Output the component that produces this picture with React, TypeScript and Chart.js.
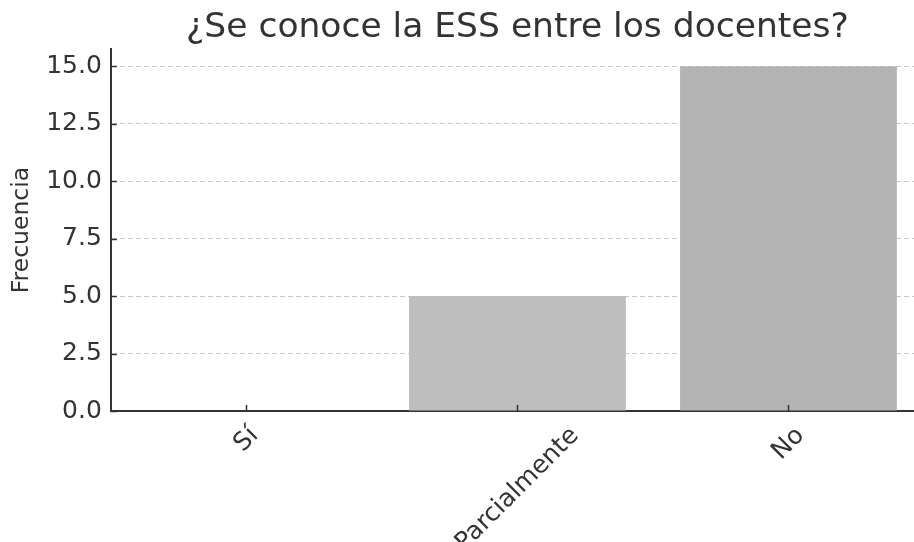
import { useEffect, useRef } from "react";
import { Chart, registerables } from "chart.js";

Chart.register(...registerables);

const categories = ["Sí", "Parcialmente", "No"];
const frequencies = [0, 5, 15];
const yTickValues = [0, 2.5, 5, 7.5, 10, 12.5, 15];
const barColors = ["#bebebe", "#bebebe", "#b4b4b4"];
const chartTitle = "¿Se conoce la ESS entre los docentes?";
const yAxisTitle = "Frecuencia";

const FONT = "'DejaVu Sans', sans-serif";
const INK = "#333333";

export default function App() {
  const ref = useRef<HTMLCanvasElement | null>(null);

  useEffect(() => {
    if (!ref.current) return;

    const mplPlugin = {
      id: "mplExtras",
      afterDatasetsDraw(chart: any) {
        const { ctx, chartArea, scales } = chart;
        const x = scales.x;
        const y = scales.y;
        ctx.save();
        ctx.strokeStyle = INK;
        ctx.lineWidth = 1.5;
        ctx.beginPath();
        y.ticks.forEach((t: any) => {
          const py = Math.round(y.getPixelForValue(t.value)) + 0.5;
          ctx.moveTo(chartArea.left, py);
          ctx.lineTo(chartArea.left + 6, py);
        });
        categories.forEach((_, i) => {
          const px = Math.round(x.getPixelForValue(i)) + 0.5;
          ctx.moveTo(px, chartArea.bottom);
          ctx.lineTo(px, chartArea.bottom - 6);
        });
        ctx.stroke();
        ctx.restore();
      },
      afterDraw(chart: any) {
        const { ctx, chartArea, scales } = chart;
        ctx.save();
        // title centred over the plot area
        ctx.font = `34.5px ${FONT}`;
        ctx.fillStyle = INK;
        ctx.textAlign = "center";
        ctx.textBaseline = "alphabetic";
        ctx.fillText(chartTitle, (chartArea.left + chartArea.right) / 2, 37);

        // rotated category labels, bbox centred under the tick
        ctx.font = `25px ${FONT}`;
        ctx.textBaseline = "middle";
        const top = chartArea.bottom + 12;
        const h = 25;
        categories.forEach((label, i) => {
          const w = ctx.measureText(label).width;
          const px = scales.x.getPixelForValue(i);
          const cy = top + ((w + h) * Math.SQRT1_2) / 2;
          ctx.save();
          ctx.translate(px, cy);
          ctx.rotate(-Math.PI / 4);
          ctx.fillText(label, 0, 0);
          ctx.restore();
        });
        ctx.restore();
      },
    };

    const chart = new Chart(ref.current, {
      type: "bar",
      data: {
        labels: categories,
        datasets: [
          {
            data: frequencies,
            backgroundColor: barColors,
            borderWidth: 0,
            barPercentage: 0.8,
            categoryPercentage: 1.0,
          },
        ],
      },
      options: {
        animation: false,
        responsive: false,
        devicePixelRatio: 1,
        layout: { padding: { left: 0, right: 0, top: 49, bottom: 131 } },
        plugins: {
          legend: { display: false },
          tooltip: { enabled: false },
          title: { display: false },
        },
        scales: {
          x: {
            type: "category",
            offset: true,
            z: 1,
            grid: { display: false, drawTicks: false },
            border: { display: true, color: INK, width: 2 },
            ticks: { display: false },
          },
          y: {
            min: 0,
            max: 15.75,
            z: 1,
            afterBuildTicks: (s: any) => {
              s.ticks = yTickValues.map((v) => ({ value: v }));
            },
            grid: { color: "rgba(176,176,176,0.7)", lineWidth: 1, drawTicks: false },
            border: { display: true, color: INK, width: 2, dash: [5, 3] },
            ticks: {
              color: INK,
              padding: 9,
              font: { family: FONT, size: 25 },
              callback: (v: any) => Number(v).toFixed(1),
            },
            title: {
              display: true,
              text: yAxisTitle,
              color: INK,
              font: { family: FONT, size: 23.5 },
              padding: { top: 8, bottom: 1 },
            },
          },
        },
      },
      plugins: [mplPlugin],
    } as any);

    return () => chart.destroy();
  }, []);

  return (
    <div
      style={{
        position: "fixed",
        left: 0,
        top: 0,
        width: 914,
        height: 542,
        overflow: "hidden",
        background: "#ffffff",
      }}
    >
      <canvas ref={ref} width={924} height={542} style={{ width: 924, height: 542, display: "block" }} />
    </div>
  );
}
